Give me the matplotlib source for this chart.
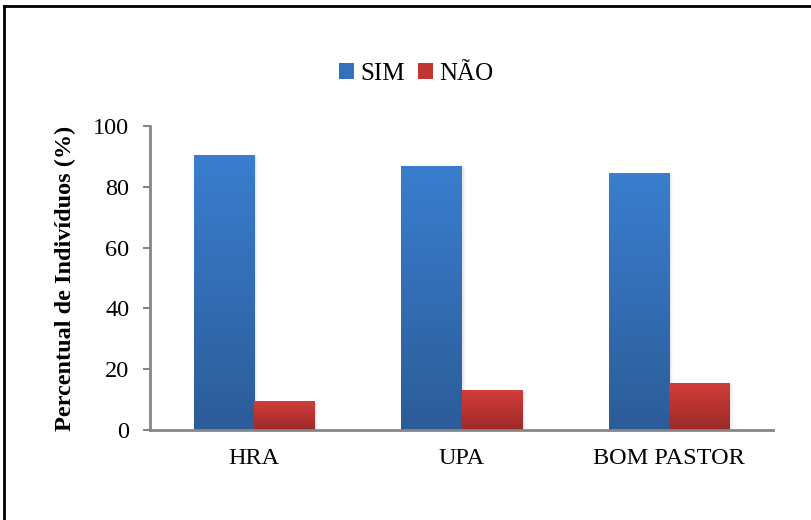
import numpy as np
import matplotlib
matplotlib.use("Agg")
import matplotlib.pyplot as plt
from matplotlib.patches import Patch
from matplotlib.lines import Line2D
from matplotlib.colors import LinearSegmentedColormap

categories = ["HRA", "UPA", "BOM PASTOR"]
sim = [90.5, 87.0, 84.5]
nao = [9.5, 13.0, 15.5]
series_labels = ["SIM", "NÃO"]
y_ticks = [0, 20, 40, 60, 80, 100]

plt.rcParams["font.family"] = ["Liberation Serif", "DejaVu Serif"]

fig = plt.figure(figsize=(8.11, 5.2), dpi=100)
ax = fig.add_axes([150 / 811, 90 / 520, 623 / 811, 304 / 520])

x = np.arange(len(categories))
width = 0.29

blue_cmap = LinearSegmentedColormap.from_list("blue", ["#2C5C98", "#3A7ECF"])
red_cmap = LinearSegmentedColormap.from_list("red", ["#9C2A29", "#D23D3A"])

bars_sim = ax.bar(x - width / 2, sim, width, color="none", zorder=3)
bars_nao = ax.bar(x + width / 2, nao, width, color="none", zorder=3)

grad = np.linspace(0, 1, 256).reshape(-1, 1)
for bars, cmap in ((bars_sim, blue_cmap), (bars_nao, red_cmap)):
    for b in bars:
        bx, by = b.get_x(), b.get_y()
        bw, bh = b.get_width(), b.get_height()
        # soft drop shadow to the right of each bar
        for k, a in enumerate([0.06, 0.045, 0.03, 0.015]):
            ax.add_patch(plt.Rectangle((bx + 0.004 + k * 0.006, by), bw, bh - 0.5,
                                       color="#000000", alpha=a, lw=0, zorder=1))
        im = ax.imshow(grad, cmap=cmap, origin="lower", aspect="auto",
                       extent=(bx, bx + bw, by, by + bh), zorder=2)
        im.set_clip_path(b)

ax.set_xlim(-0.5, len(categories) - 0.5)
ax.set_ylim(0, 100)

ax.set_xticks(x)
ax.set_xticklabels(categories, fontsize=17.5)
ax.set_yticks(y_ticks)
ax.set_yticklabels([str(t) for t in y_ticks], fontsize=17.5)
ax.tick_params(axis="x", length=0, pad=13)
ax.tick_params(axis="y", length=5, width=1.5, color="#868686", pad=10)

for side in ("top", "right"):
    ax.spines[side].set_visible(False)
for side in ("left", "bottom"):
    ax.spines[side].set_color("#868686")
    ax.spines[side].set_linewidth(2)

ax.set_ylabel("Percentual de Indivíduos (%)", fontsize=17.5, fontweight="bold", labelpad=12)

handles = [Patch(facecolor="#3571BA", edgecolor="none"),
           Patch(facecolor="#BF3634", edgecolor="none")]
fig.legend(handles, series_labels, loc="center", bbox_to_anchor=(416 / 811, 1 - 74 / 520),
           ncol=2, frameon=False, fontsize=18, handlelength=0.6, handleheight=0.6,
           handletextpad=0.25, columnspacing=0.5)

# outer frame lines along the left and top edges
fig.add_artist(Line2D([4 / 811, 4 / 811], [0, 1 - 6 / 520], transform=fig.transFigure,
                      color="black", lw=2))
fig.add_artist(Line2D([4 / 811, 1], [1 - 6 / 520, 1 - 6 / 520], transform=fig.transFigure,
                      color="black", lw=2))

fig.savefig("out.png", dpi=100)
